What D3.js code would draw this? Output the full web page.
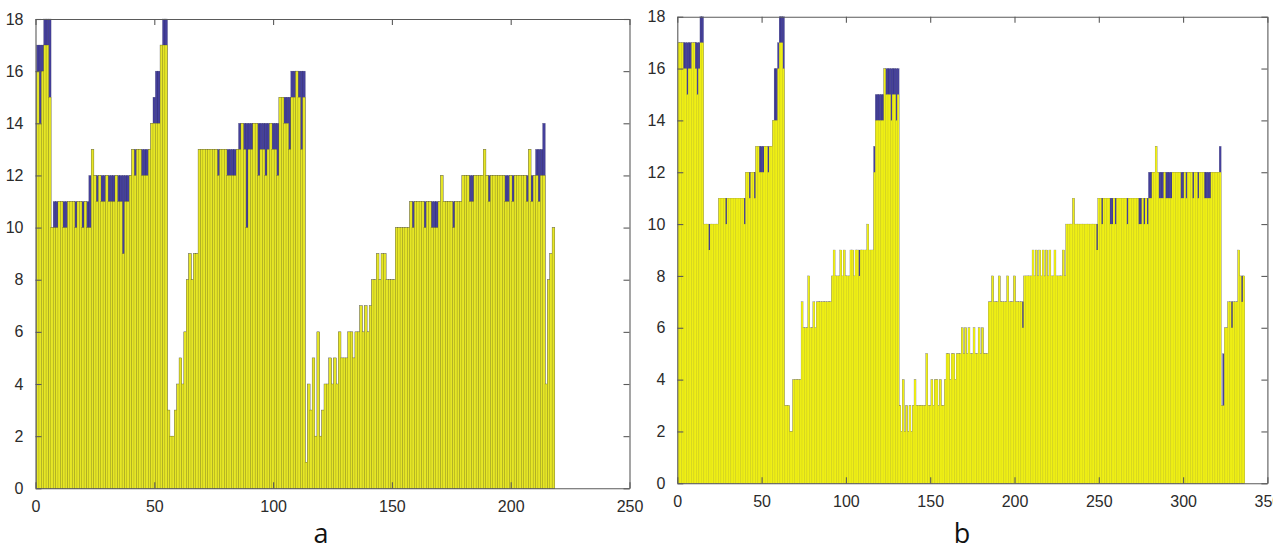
<!DOCTYPE html>
<html>
<head>
<meta charset="utf-8">
<style>
  body { margin: 0; background: #fff; }
  svg { display: block; }
  .tick text { font-family: "Liberation Sans", Arial, sans-serif; font-size: 16px; fill: #2b2b2b; }
  .panel-label { font-family: "Open Sans", "Noto Sans", sans-serif; font-size: 27px; fill: #111; }
</style>
</head>
<body>
<svg id="chart" width="1273" height="551"></svg>
<script src="https://d3js.org/d3.v7.min.js"></script>
<script>
// panel a: yellow series (front) and blue series (behind), one value per bar, bars 1..218
var yellowA = [
  16,14,16,17,17,15,10,10,10,11, 11,10,10,11,11,11,10,11,11,10,
  11,10,10,13,12,11,12,11,11,12, 11,11,11,12,11,11,9,11,11,12,
  13,12,13,13,12,12,12,13,14,14, 14,14,17,17,17,3,2,2,3,4,
  5,4,6,8,9,8,9,9,13,13, 13,13,13,13,13,13,12,13,13,13,
  12,12,12,12,13,13,14,13,10,13, 13,14,14,12,13,13,12,13,14,13,
  13,12,15,15,14,14,13,15,15,16, 15,13,15,1,4,3,5,2,6,2,
  3,4,4,5,4,5,4,6,5,5, 5,6,6,5,6,6,7,6,7,6,
  7,8,8,9,8,9,9,8,8,8, 8,10,10,10,10,10,10,11,10,11,
  11,11,11,10,11,11,10,10,10,11, 12,11,11,11,11,10,11,11,11,12,
  12,12,11,11,12,12,12,12,13,12, 11,12,12,12,12,12,12,11,11,12,
  11,12,12,12,12,12,11,13,11,12, 12,11,12,12,4,8,9,10
];
var blueA = [
  17,17,17,18,18,18,10,11,11,11, 11,11,11,11,11,11,11,11,11,11,
  11,11,12,13,12,12,12,12,12,12, 12,12,12,12,12,12,12,12,12,12,
  13,13,13,13,13,13,13,13,14,15, 16,16,17,18,18,3,2,2,3,4,
  5,4,6,8,9,8,9,9,13,13, 13,13,13,13,13,13,13,13,13,13,
  13,13,13,13,13,14,14,14,14,14, 14,14,14,14,14,14,14,14,14,14,
  14,14,15,15,15,15,15,16,16,16, 16,16,16,1,4,3,5,2,6,2,
  3,4,4,5,4,5,4,6,5,5, 5,6,6,5,6,6,7,6,7,6,
  7,8,8,9,8,9,9,8,8,8, 8,10,10,10,10,10,10,11,11,11,
  11,11,11,11,11,11,11,11,11,11, 12,11,11,11,11,11,11,11,11,12,
  12,12,12,12,12,12,12,12,13,12, 12,12,12,12,12,12,12,12,12,12,
  12,12,12,12,12,12,12,13,12,12, 13,13,13,14,4,8,9,10
];

// panel b: bars 1..336
var yellowB = [
  17,17,17,16,16,15,16,16,17,17, 16,15,16,17,17,10,10,10,9,10,
  10,10,10,10,11,11,11,11,10,11, 11,11,11,11,11,11,11,11,11,10,
  12,12,11,12,12,11,13,13,12,12, 12,13,13,12,13,13,14,14,14,16,
  17,17,16,3,3,3,2,2,4,4, 4,4,4,7,6,6,6,8,6,6,
  7,6,7,7,7,7,7,7,7,7, 7,8,9,8,8,8,9,8,9,8,
  8,8,9,9,8,9,9,8,9,9, 9,9,10,9,9,9,12,14,14,14,
  14,14,16,15,15,15,14,15,15,14, 15,3,2,4,2,3,2,3,2,3,
  4,3,3,3,3,3,3,5,3,3, 4,3,4,4,3,4,3,3,4,5,
  5,4,5,5,4,5,5,5,6,5, 6,5,6,5,5,6,5,5,6,5,
  6,5,5,5,7,7,8,7,7,7, 8,7,7,7,7,8,7,7,7,8,
  7,7,7,7,6,8,8,8,8,8, 9,8,9,8,9,8,9,8,9,8,
  9,8,8,9,8,8,8,8,9,8, 10,10,10,10,11,10,10,10,10,10,
  10,10,10,10,10,10,10,10,9,11, 11,10,11,11,11,11,10,10,11,10,
  11,11,11,11,11,11,10,11,11,11, 11,11,11,10,10,11,10,11,10,11,
  11,12,12,13,12,11,11,11,12,11, 11,11,11,12,12,12,12,12,11,11,
  12,11,12,12,12,11,12,12,11,12, 12,12,11,11,11,11,12,12,12,12,
  12,12,3,3,6,6,7,7,6,7, 7,7,9,8,7,8
];
var blueB = [
  17,17,17,17,17,17,17,17,17,17, 17,17,17,18,18,10,10,10,10,10,
  10,10,10,10,11,11,11,11,11,11, 11,11,11,11,11,11,11,11,11,11,
  12,12,12,12,12,12,13,13,13,13, 13,13,13,13,13,13,14,16,16,17,
  18,18,18,3,3,3,2,2,4,4, 4,4,4,7,6,6,6,8,6,6,
  7,6,7,7,7,7,7,7,7,7, 7,8,9,8,8,8,9,8,9,8,
  8,8,9,9,8,9,9,9,9,9, 9,9,10,9,9,9,13,15,15,15,
  15,15,16,16,16,16,16,16,16,16, 16,3,2,4,2,3,2,3,2,3,
  4,3,3,3,3,3,3,5,3,3, 4,3,4,4,3,4,3,3,4,5,
  5,4,5,5,4,5,5,5,6,5, 6,5,6,5,5,6,5,5,6,5,
  6,5,5,5,7,7,8,7,7,7, 8,7,7,7,7,8,7,7,7,8,
  7,7,7,7,7,8,8,8,8,8, 9,8,9,8,9,8,9,8,9,8,
  9,8,8,9,8,8,8,8,9,8, 10,10,10,10,11,10,10,10,10,10,
  10,10,10,10,10,10,10,10,10,11, 11,11,11,11,11,11,11,11,11,11,
  11,11,11,11,11,11,11,11,11,11, 11,11,11,11,11,11,11,11,11,12,
  12,12,12,13,12,12,12,12,12,12, 12,12,12,12,12,12,12,12,12,12,
  12,12,12,12,12,12,12,12,12,12, 12,12,12,12,12,12,12,12,12,12,
  12,13,3,5,6,6,7,7,7,7, 7,7,9,8,8,8
];

var yTicks = [0,2,4,6,8,10,12,14,16,18];
var xTicksA = [0,50,100,150,200,250];
var xTicksB = [0,50,100,150,200,250,300,350];

var blue = "#45409c";

var svg = d3.select("#chart");
svg.append("rect").attr("width", 1273).attr("height", 551).attr("fill", "#fff");

function drawPanel(opt) {
    var x = d3.scaleLinear().domain(opt.xDomain).range([opt.left, opt.right]);
    var y = d3.scaleLinear().domain([0, 18]).range([opt.bottom, opt.top]);
    var g = svg.append("g");
    var bw = x(1) - x(0);

    var series = [
        {vals: opt.blue, color: blue, edge: "#20204a", op: 0.5},
        {vals: opt.yellow, color: opt.yellowColor, edge: "#50500f", op: opt.edgeOpacity}
    ];
    series.forEach(function(s) {
        g.append("g").selectAll("rect")
            .data(s.vals)
            .enter().append("rect")
            .attr("x", function(d, i) { return x(i + 1) - bw / 2 - 0.15; })
            .attr("y", function(d) { return y(d); })
            .attr("width", bw + 0.3)
            .attr("height", function(d) { return y(0) - y(d); })
            .attr("fill", s.color)
            .attr("stroke", s.edge)
            .attr("stroke-opacity", s.op)
            .attr("stroke-width", opt.edgeWidth);
    });

    // box with inward ticks on all four sides
    var axes = [
        {ax: d3.axisBottom(x).tickValues(opt.xTicks), tr: "translate(0," + opt.bottom + ")", lab: true},
        {ax: d3.axisTop(x).tickValues(opt.xTicks), tr: "translate(0," + opt.top + ")", lab: false},
        {ax: d3.axisLeft(y).tickValues(yTicks), tr: "translate(" + opt.left + ",0)", lab: true},
        {ax: d3.axisRight(y).tickValues(yTicks), tr: "translate(" + opt.right + ",0)", lab: false}
    ];
    axes.forEach(function(a) {
        var ag = g.append("g")
            .attr("transform", a.tr)
            .call(a.ax.tickSizeInner(-6).tickSizeOuter(0).tickPadding(12));
        ag.select(".domain").attr("stroke", "#5a5a5a").attr("stroke-width", 1.1);
        ag.selectAll(".tick line").attr("stroke", "#5a5a5a").attr("stroke-width", 1.1);
        if (!a.lab) ag.selectAll(".tick text").remove();
    });

    svg.append("text").attr("class", "panel-label")
        .attr("x", opt.labelX).attr("y", opt.labelY)
        .attr("text-anchor", "middle")
        .text(opt.label);
}

drawPanel({
    xDomain: [0, 250], left: 35.5, right: 629.5, top: 19, bottom: 488.3,
    xTicks: xTicksA, yellow: yellowA, blue: blueA,
    yellowColor: "#e6e626", edgeOpacity: 0.5, edgeWidth: 0.4,
    label: "a", labelX: 321, labelY: 543
});
drawPanel({
    xDomain: [0, 350], left: 677.3, right: 1267.4, top: 16.7, bottom: 483.3,
    xTicks: xTicksB, yellow: yellowB, blue: blueB,
    yellowColor: "#efef16", edgeOpacity: 0.1, edgeWidth: 0.3,
    label: "b", labelX: 962, labelY: 543
});
</script>
</body>
</html>
